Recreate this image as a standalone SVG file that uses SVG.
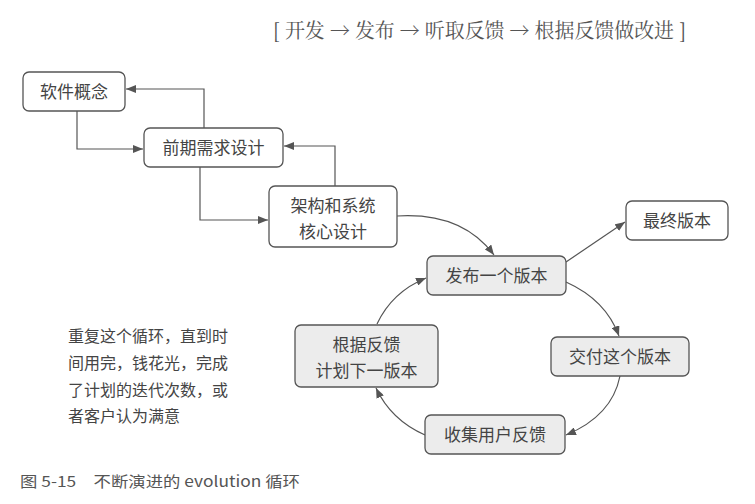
<svg xmlns="http://www.w3.org/2000/svg" width="755" height="504" viewBox="0 0 755 504">
<defs>
<style>
.box{stroke:#555;stroke-width:1.3;fill:#fff}
.loop{fill:#ececec}
.t{font-family:"Noto Sans CJK SC","Noto Sans",sans-serif;font-size:17px;fill:#444;text-anchor:middle}
.note{font-family:"Noto Sans CJK SC","Noto Sans",sans-serif;font-size:16px;fill:#444}
.c{fill:none;stroke:#555;stroke-width:1.2}
</style>
<marker id="ah" viewBox="0 0 10 8" refX="10" refY="4" markerWidth="10" markerHeight="8" markerUnits="userSpaceOnUse" orient="auto">
<path d="M0,0 L10,4 L0,8 z" fill="#555"/>
</marker>
</defs>
<rect width="755" height="504" fill="#fff"/>
<text x="273" y="38" font-family="'Noto Serif CJK SC','Noto Sans CJK SC','Liberation Serif',serif" font-size="20" fill="#555" textLength="413" lengthAdjust="spacingAndGlyphs">[ 开发 → 发布 → 听取反馈 → 根据反馈做改进 ]</text>

<g id="connectors">
<path class="c" d="M77,111 V149 H143" marker-end="url(#ah)"/>
<path class="c" d="M204,128 V89 H126" marker-end="url(#ah)"/>
<path class="c" d="M200,167 V220 H268" marker-end="url(#ah)"/>
<path class="c" d="M335,186 V146 H284" marker-end="url(#ah)"/>
<path class="c" d="M397,216 Q462,212 494,255" marker-end="url(#ah)"/>
<path class="c" d="M566,262 L625,222" marker-end="url(#ah)"/>
<path class="c" d="M566,282 Q606,300 619,336" marker-end="url(#ah)"/>
<path class="c" d="M620,376 Q612,416 566,435" marker-end="url(#ah)"/>
<path class="c" d="M425,435 Q391,420 376,388" marker-end="url(#ah)"/>
<path class="c" d="M377,324 Q392,292 426,278" marker-end="url(#ah)"/>
</g>

<g id="n1"><rect class="box" x="23" y="72" width="102" height="39" rx="6"/><text class="t" x="74" y="98">软件概念</text></g>
<g id="n2"><rect class="box" x="144" y="128" width="139" height="39" rx="6"/><text class="t" x="213.5" y="154">前期需求设计</text></g>
<g id="n3"><rect class="box" x="269" y="186" width="128" height="61" rx="6"/><text class="t" x="333" y="212">架构和系统</text><text class="t" x="333" y="238">核心设计</text></g>
<g id="n4"><rect class="box loop" x="427" y="256" width="139" height="39" rx="6"/><text class="t" x="496.5" y="282">发布一个版本</text></g>
<g id="n5"><rect class="box" x="626" y="201" width="102" height="39" rx="6"/><text class="t" x="677" y="227">最终版本</text></g>
<g id="n6"><rect class="box loop" x="551" y="337" width="138" height="39" rx="6"/><text class="t" x="620" y="363">交付这个版本</text></g>
<g id="n7"><rect class="box loop" x="425" y="415" width="140" height="39" rx="6"/><text class="t" x="495" y="441">收集用户反馈</text></g>
<g id="n8"><rect class="box loop" x="295" y="325" width="143" height="62" rx="6"/><text class="t" x="366.5" y="351">根据反馈</text><text class="t" x="366.5" y="377">计划下一版本</text></g>

<g id="note">
<text class="note" x="68" y="342">重复这个循环，直到时</text>
<text class="note" x="68" y="369">间用完，钱花光，完成</text>
<text class="note" x="68" y="396">了计划的迭代次数，或</text>
<text class="note" x="68" y="422">者客户认为满意</text>
</g>
<text x="20" y="487" font-family="'Noto Sans CJK SC','Noto Sans',sans-serif" font-size="15" fill="#555" textLength="280" lengthAdjust="spacingAndGlyphs">图 5-15　不断演进的 evolution 循环</text>
</svg>
